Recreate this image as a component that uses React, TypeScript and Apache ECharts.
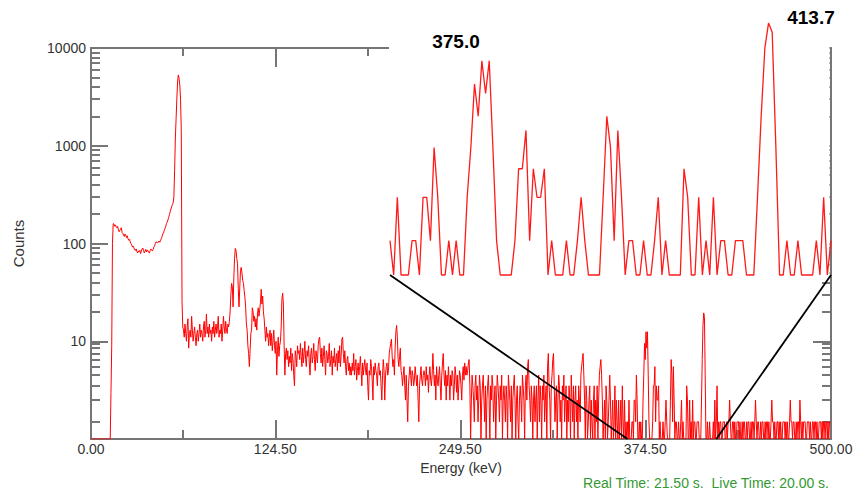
import React, { useEffect, useRef } from "react";
import * as echarts from "echarts";

// Spectrum: one value per 0.5 keV channel, 0 – 499.5 keV (plotted as counts + 0.5, empty channels sit on the floor at 1)
const channelKeV = 0.5;
const counts: number[] = [
  1, 1, 1, 1, 1, 1, 1, 1, 1, 1, 1, 1, 1, 1, 1, 1, 1, 1, 1, 1, // 0
  1, 1, 1, 1, 1, 1, 1, 3, 9, 100, 160, 158, 150, 155, 148, 145, 150, 138, 132, 137, // 10
  140, 145, 130, 127, 122, 118, 125, 121, 115, 120, 112, 108, 110, 104, 100, 97, 92, 94, 90, 86, // 20
  85, 88, 83, 80, 84, 82, 85, 79, 83, 88, 90, 85, 80, 83, 87, 82, 86, 84, 81, 80, // 30
  85, 88, 86, 84, 87, 92, 95, 100, 104, 103, 101, 104, 106, 103, 108, 112, 118, 125, 128, 136, // 40
  142, 150, 160, 166, 175, 185, 198, 211, 225, 237, 250, 260, 300, 562, 1200, 1900, 3000, 4500, 5300, 4900, // 50
  4170, 3000, 1445, 26, 14, 13, 11, 15, 12, 10, 14, 17, 8.5, 12, 13, 11, 18, 13, 10, 12, // 60
  14, 11, 9, 12, 13, 10, 12, 15, 11, 13, 12, 10, 14, 16, 11, 13, 19, 12, 14, 11, // 70
  15, 12, 13, 10, 14, 12, 16, 11, 13, 15, 12, 14, 18, 11, 13, 12, 15, 10, 13, 18, // 80
  14, 12, 16, 13, 12, 15, 14, 16, 20, 30, 39, 36, 22.5, 45, 70, 89, 85, 70, 62, 35, // 90
  22.5, 35, 53, 57, 50, 42, 39, 33, 28, 22, 15, 13, 9, 7.5, 5.5, 8, 12, 13, 22, 20, // 100
  16, 18, 14, 17, 13, 19, 22, 18, 21, 25, 34, 24, 29, 20, 17, 13, 10, 14, 11, 12, // 110
  9, 11, 13, 9, 12, 8, 10, 13, 9, 7.5, 10, 4.5, 8, 11, 7, 9, 10, 14, 27, 31, // 120
  24, 9, 4.5, 7.5, 8.5, 6.5, 8, 5.5, 7, 6, 8.5, 5, 7.5, 6.5, 4.5, 3.5, 8, 7, 5.5, 9, // 130
  7.5, 8, 6.5, 9.5, 7, 5.5, 8.5, 6, 7.5, 10, 6.5, 5.5, 8, 7, 9, 6, 4.5, 7.5, 8.5, 6, // 140
  7, 9.5, 6.5, 5, 8, 7, 6, 9, 10.5, 11, 7.5, 6, 8.5, 5.5, 7, 9, 6.5, 4.5, 8, 7.5, // 150
  6, 7, 9.5, 5.5, 6.5, 8, 4.5, 7, 6, 8.5, 5.5, 6.5, 7.5, 5, 8, 6, 9, 5.5, 7, 10.5, // 160
  11, 7.5, 6, 8, 5.5, 4.5, 6.5, 7, 5, 6, 4.5, 5.5, 4.5, 6, 5, 7.5, 4.5, 5.5, 6.5, 4, // 170
  5, 6, 4.5, 5.5, 7, 5, 3.5, 6, 4.5, 5.5, 6.5, 5, 4.5, 6, 3.5, 2.5, 5, 4.5, 6.5, 5.5, // 180
  4, 2.5, 5.5, 4.5, 6, 5, 4.5, 3.5, 5.5, 6, 4.5, 5, 3.5, 2.5, 4.5, 6.5, 5, 2.5, 4.5, 5.5, // 190
  6, 4.5, 5, 7.5, 8.5, 9.5, 10.5, 7, 5.5, 6.5, 4.5, 8.5, 12.5, 14.5, 11, 6.5, 5.5, 7, 8.5, 5, // 200
  4.5, 3.5, 4.5, 5.5, 3.5, 2.5, 4.5, 2.5, 1.5, 3.5, 4.5, 5.5, 4.5, 3.5, 5, 4.5, 3.5, 4, 5.5, 4.5, // 210
  3.5, 4.5, 2.5, 1.5, 3.5, 4.5, 5.5, 4, 3.5, 4.5, 5, 4.5, 3.5, 5.5, 4, 4.5, 3, 4.5, 5.5, 4, // 220
  3.5, 4.5, 7.5, 5, 3.5, 4.5, 2.5, 5.5, 4, 3.5, 4.5, 5.5, 3.5, 2.5, 4.5, 6, 7.5, 4.5, 3.5, 5, // 230
  2.5, 4.5, 3.5, 5.5, 4, 2.5, 4.5, 3.5, 5, 4.5, 2.5, 3.5, 5.5, 4.5, 3, 4.5, 2.5, 3.5, 5, 4.5, // 240
  3.5, 2.5, 4.5, 5.5, 4, 6, 4.5, 5.5, 4.5, 5, 6, 6.5, 3.5, 1, 2.5, 4.5, 3.5, 2.5, 1.5, 3.5, // 250
  4.5, 2.5, 3.5, 1.5, 2.5, 4.5, 3.5, 1, 2.5, 3.5, 4.5, 2.5, 1.5, 3.5, 1, 2.5, 3.5, 4.5, 2.5, 1, // 260
  3.5, 2.5, 4.5, 3.5, 1.5, 2.5, 3.5, 1, 2.5, 4.5, 3.5, 2.5, 1.5, 3.5, 2.5, 4.5, 1, 2.5, 3.5, 2.5, // 270
  1.5, 3.5, 2.5, 1, 4.5, 3.5, 2.5, 1.5, 3.5, 1, 2.5, 3.5, 4.5, 2.5, 1, 2.5, 3.5, 1.5, 1, 2.5, // 280
  3.5, 2.5, 1.5, 4.5, 3.5, 2.5, 1, 3.5, 4.5, 2.5, 5.5, 6.5, 3.5, 2.5, 1.5, 3.5, 2.5, 1, 2.5, 3.5, // 290
  1.5, 2.5, 3.5, 1, 2.5, 4.5, 1.5, 3.5, 2.5, 1, 3.5, 2.5, 4.5, 1.5, 2.5, 3.5, 1, 5.5, 7.5, 3.5, // 300
  2.5, 1, 3.5, 4.5, 6.5, 7.5, 3.5, 1.5, 2.5, 3.5, 1, 2.5, 4.5, 3.5, 1.5, 2.5, 1, 3.5, 2.5, 4.5, // 310
  1.5, 2.5, 3.5, 1, 2.5, 1.5, 3.5, 2.5, 1, 4.5, 2.5, 1.5, 3.5, 1, 2.5, 3.5, 1.5, 2.5, 1, 3.5, // 320
  2.5, 1.5, 4.5, 5.5, 6.5, 7.5, 4.5, 2.5, 1, 3.5, 2.5, 1, 1.5, 2.5, 3.5, 1, 2.5, 1.5, 1, 2.5, // 330
  3.5, 1, 2.5, 1.5, 3.5, 1, 2.5, 4.5, 5.5, 6.5, 4.5, 2.5, 1, 1.5, 2.5, 1, 3.5, 2.5, 1, 1.5, // 340
  2.5, 4.5, 2.5, 1, 1.5, 2.5, 1, 1.5, 3.5, 1, 2.5, 1.5, 1, 2.5, 1, 1.5, 2.5, 1, 3.5, 1.5, // 350
  1, 2.5, 1, 1.5, 1, 1.5, 1, 2.5, 1, 1, 1, 1.5, 1.5, 1, 2.5, 2.5, 1.5, 4.5, 2.5, 1, // 360
  1, 1.5, 1, 1.5, 1, 1, 2.5, 4.5, 9.5, 6.5, 12.5, 8.5, 12.5, 4.5, 1.5, 1, 1, 1, 1, 1.5, // 370
  3.5, 3.5, 5.5, 1.5, 3.5, 2.5, 2.5, 3.5, 1, 1.5, 1, 1, 1, 1.5, 1, 1, 1.5, 2.5, 1.5, 1, // 380
  1, 1, 1, 2.5, 6.5, 4.5, 1.5, 5.5, 2.5, 1, 1.5, 1.5, 1, 1, 1.5, 1, 1, 1.5, 2.5, 1, // 390
  1.5, 1, 1, 1, 1, 3.5, 2.5, 1, 1, 2.5, 1, 1.5, 1, 2.5, 1, 1.5, 1.5, 1, 1, 1.5, // 400
  1.5, 1.5, 1, 1, 1, 2.5, 6.5, 14.5, 19.5, 17.5, 4.5, 1, 1, 1.5, 1, 1, 1.5, 1, 1, 1, // 410
  1, 1.5, 1, 2.5, 1, 1.5, 3.5, 1, 1.5, 1, 1.5, 1.5, 1, 1, 1.5, 1.5, 1.5, 1, 1, 1.5, // 420
  1, 1.5, 1.5, 2.5, 1.5, 1, 1, 1.5, 1.5, 1, 1.5, 1, 1, 1.5, 1.5, 1.5, 1, 1.5, 1, 1, // 430
  1.5, 1, 1.5, 1.5, 1, 1, 1.5, 1, 1.5, 1.5, 1, 1, 1.5, 1, 1.5, 1.5, 1, 1.5, 2.5, 1.5, // 440
  1, 1.5, 1.5, 1, 1, 1.5, 1, 1.5, 1.5, 1, 1, 1.5, 1, 1.5, 1.5, 1, 1.5, 1, 1, 1.5, // 450
  2.5, 1.5, 1.5, 1, 1.5, 1, 1, 1.5, 1.5, 1, 1.5, 1, 1.5, 1, 1, 1.5, 1.5, 1.5, 1, 1.5, // 460
  1, 1.5, 1, 1, 1.5, 2.5, 1.5, 1.5, 1, 1.5, 1.5, 1, 1, 1.5, 1, 1.5, 1.5, 1, 2.5, 1.5, // 470
  1, 1.5, 1, 1.5, 1.5, 1.5, 1, 1, 1.5, 1.5, 1.5, 1, 1.5, 1, 1, 1.5, 1.5, 1, 1.5, 1.5, // 480
  1, 1.5, 1, 1, 1.5, 1.5, 1.5, 1, 1.5, 1, 1.5, 1.5, 1, 1.5, 1.5, 1, 1.5, 1, 1.5, 1.5, // 490
];

// Axis ticks and labels
const energyTicks = [0, 124.5, 249.5, 374.5, 500];
const energyMinorTicks = [62.25, 187, 312, 437.25];
const countTicks = [1, 10, 100, 1000, 10000];
const countLabels = [10, 100, 1000, 10000];
const countMinorTicks = [
  1.5, 2.5, 3.5, 4.5, 5.5, 6.5, 7.5, 8.5, 9.5,
  20, 30, 40, 50, 60, 70, 80, 90,
  200, 300, 400, 500, 600, 700, 800, 900,
  2000, 3000, 4000, 5000, 6000, 7000, 8000, 9000,
];

// Expanded region shown in the inset (keV) and its count range
const zoomRange = [362.5, 422.5];
const zoomCountMax = 25;

// Peak annotations
const peakLabels = ["375.0", "413.7"];
const timeText = "Real Time: 21.50 s.  Live Time: 20.00 s.";

const FONT = '"Liberation Sans", Arial, Helvetica, sans-serif';
const AXIS_GRAY = "#767676";
const LABEL_COLOR = "#333333";

const spectrumData = counts.map((c, i) => [i * channelKeV, c]);
const zoomData = spectrumData.filter(
  ([e]) => e >= zoomRange[0] - 1e-9 && e <= zoomRange[1] + 1e-9
);

function xTickAxis(position: "top" | "bottom", values: number[], length: number, showLine: boolean) {
  return {
    gridIndex: 0,
    type: "value",
    position,
    min: 0,
    max: 500,
    axisLine: { show: showLine, onZero: false, lineStyle: { color: AXIS_GRAY, width: 2 } },
    axisTick: {
      show: true,
      inside: true,
      length,
      customValues: values,
      lineStyle: { color: AXIS_GRAY, width: 2 },
    },
    axisLabel: { show: false },
    splitLine: { show: false },
  };
}

function yTickAxis(position: "left" | "right", values: number[], length: number, showLine: boolean) {
  return {
    gridIndex: 0,
    type: "log",
    logBase: 10,
    position,
    min: 1,
    max: 10000,
    axisLine: { show: showLine, onZero: false, lineStyle: { color: AXIS_GRAY, width: 2 } },
    axisTick: {
      show: true,
      inside: true,
      length,
      customValues: values,
      lineStyle: { color: AXIS_GRAY, width: 2 },
    },
    axisLabel: { show: false },
    splitLine: { show: false },
  };
}

export default function App() {
  const ref = useRef<HTMLDivElement>(null);

  useEffect(() => {
    if (!ref.current) return;
    const chart = echarts.init(ref.current, undefined, { renderer: "svg" });

    const bottomMajor: any = xTickAxis("bottom", energyTicks, 19, true);
    bottomMajor.axisLabel = {
      show: true,
      customValues: energyTicks,
      formatter: (v: number) => Number(v).toFixed(2),
      color: LABEL_COLOR,
      fontSize: 14,
      fontFamily: FONT,
      margin: 3,
    };
    bottomMajor.name = "Energy (keV)";
    bottomMajor.nameLocation = "middle";
    bottomMajor.nameGap = 21;
    bottomMajor.nameTextStyle = { color: LABEL_COLOR, fontSize: 14, fontFamily: FONT };

    const leftMajor: any = yTickAxis("left", countTicks, 17, true);
    leftMajor.axisLabel = {
      show: true,
      customValues: countLabels,
      formatter: (v: number) => String(Math.round(v)),
      color: LABEL_COLOR,
      fontSize: 14,
      fontFamily: FONT,
      margin: 5,
    };
    leftMajor.name = "Counts";
    leftMajor.nameLocation = "middle";
    leftMajor.nameGap = 65;
    leftMajor.nameRotate = 90;
    leftMajor.nameTextStyle = { color: LABEL_COLOR, fontSize: 15, fontFamily: FONT };

    chart.setOption({
      animation: false,
      backgroundColor: "#ffffff",
      grid: [
        { left: 91, top: 48, width: 740, height: 391, containLabel: false },
        { left: 390, top: 2, width: 441, height: 273, containLabel: false },
      ],
      xAxis: [
        bottomMajor,
        xTickAxis("bottom", energyMinorTicks, 9, false),
        xTickAxis("top", energyTicks.slice(1, -1), 19, true),
        xTickAxis("top", energyMinorTicks, 8, false),
        {
          gridIndex: 1,
          type: "value",
          min: zoomRange[0],
          max: zoomRange[1],
          show: false,
        },
      ],
      yAxis: [
        leftMajor,
        yTickAxis("left", countMinorTicks, 9, false),
        yTickAxis("right", countTicks, 18, true),
        yTickAxis("right", countMinorTicks, 9, false),
        {
          gridIndex: 1,
          type: "log",
          logBase: 10,
          min: 1,
          max: zoomCountMax,
          show: false,
        },
      ],
      series: [
        {
          type: "line",
          name: "Spectrum",
          xAxisIndex: 0,
          yAxisIndex: 0,
          data: spectrumData,
          symbol: "none",
          showSymbol: false,
          lineStyle: { color: "#ff0000", width: 1 },
          itemStyle: { color: "#ff0000" },
          z: 2,
        },
        {
          type: "line",
          name: "Zoom",
          xAxisIndex: 4,
          yAxisIndex: 4,
          data: zoomData,
          symbol: "none",
          showSymbol: false,
          clip: false,
          lineStyle: { color: "#ff1a1a", width: 1.3 },
          itemStyle: { color: "#ff1a1a" },
          z: 5,
        },
      ],
    });

    // Inset frame and connectors, placed from the two coordinate systems
    const insetL = chart.convertToPixel({ xAxisIndex: 4, yAxisIndex: 4 }, [zoomRange[0], 1]) as number[];
    const insetR = chart.convertToPixel({ xAxisIndex: 4, yAxisIndex: 4 }, [zoomRange[1], 1]) as number[];
    const mainL = chart.convertToPixel({ xAxisIndex: 0, yAxisIndex: 0 }, [zoomRange[0], 1]) as number[];
    const mainR = chart.convertToPixel({ xAxisIndex: 0, yAxisIndex: 0 }, [zoomRange[1], 1]) as number[];

    const boldFont = `bold 19px ${FONT}`;
    chart.setOption({
      graphic: {
        elements: [
          {
            type: "rect",
            id: "insetBg",
            z: 3,
            silent: true,
            shape: { x: insetL[0] - 1, y: 0, width: insetR[0] - insetL[0] - 0.5, height: insetL[1] },
            style: { fill: "#ffffff" },
          },
          {
            type: "line",
            id: "connL",
            z: 10,
            shape: { x1: insetL[0], y1: insetL[1], x2: mainL[0], y2: mainL[1] },
            style: { stroke: "#000000", lineWidth: 1.8 },
          },
          {
            type: "line",
            id: "connR",
            z: 10,
            shape: { x1: insetR[0], y1: insetR[1], x2: mainR[0], y2: mainR[1] },
            style: { stroke: "#000000", lineWidth: 1.8 },
          },
          {
            type: "text",
            id: "peak1",
            z: 10,
            x: 456,
            y: 41,
            style: { text: peakLabels[0], font: boldFont, fill: "#000000", align: "center", verticalAlign: "middle" },
          },
          {
            type: "text",
            id: "peak2",
            z: 10,
            x: 811,
            y: 17,
            style: { text: peakLabels[1], font: boldFont, fill: "#000000", align: "center", verticalAlign: "middle" },
          },
          {
            type: "text",
            id: "times",
            z: 10,
            x: 829,
            y: 483,
            style: { text: timeText, font: `14px ${FONT}`, fill: "#339933", align: "right", verticalAlign: "middle" },
          },
        ],
      },
    });

    return () => chart.dispose();
  }, []);

  return (
    <div
      ref={ref}
      style={{ position: "absolute", left: 0, top: 0, width: 862, height: 495, background: "#fff" }}
    />
  );
}
